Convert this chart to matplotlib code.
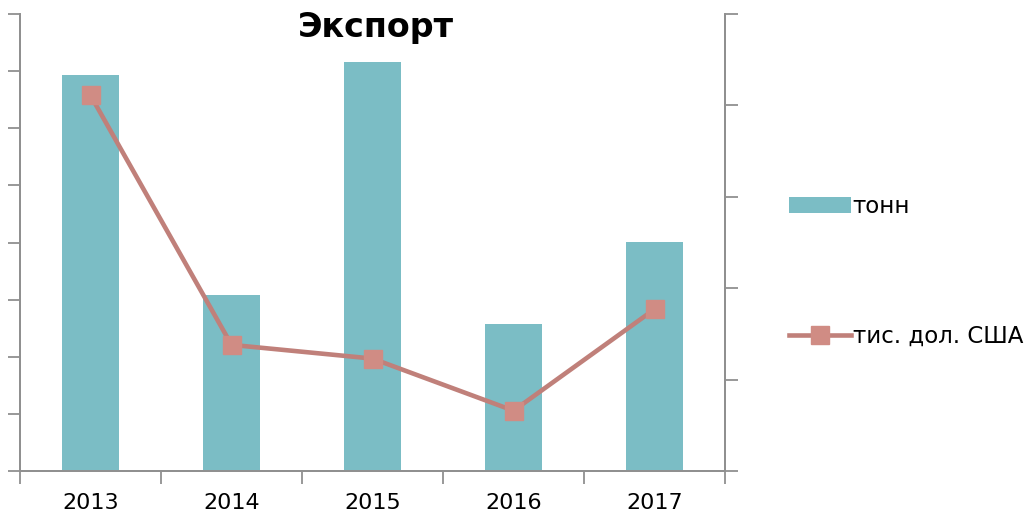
import matplotlib.pyplot as plt
import numpy as np

# данные
years = ['2013', '2014', '2015', '2016', '2017']
tonn = [6.93, 3.08, 7.16, 2.57, 4.01]        # левая ось (тонн)
usd = [4.11, 1.38, 1.23, 0.66, 1.77]         # правая ось (тис. дол. США)

plt.rcParams['font.family'] = ['DejaVu Sans']

fig = plt.figure(figsize=(10.32, 5.19), dpi=100)
ax = fig.add_axes([20 / 1032, 48 / 519, 705 / 1032, 457 / 519])
ax2 = ax.twinx()

x = np.arange(len(years))
bars = ax.bar(x, tonn, width=0.4, color='#7bbdc5', label='тонн', zorder=2)
line, = ax2.plot(x, usd, color='#c0807a', lw=3.3, marker='s', markersize=12.5,
                 markerfacecolor='#d08c84', markeredgecolor='#d08c84',
                 label='тис. дол. США', zorder=3)

ax.set_xlim(-0.5, len(years) - 0.5)
ax.set_ylim(0, 8)
ax2.set_ylim(0, 5)
ax.set_yticks(np.arange(0, 9, 1))
ax2.set_yticks(np.arange(0, 6, 1))
ax.set_yticklabels([])
ax2.set_yticklabels([])

# деления по границам категорий
ax.set_xticks(np.arange(-0.5, len(years), 1))
ax.set_xticklabels([])
ax.set_xticks(x, minor=True)
ax.set_xticklabels(years, minor=True, fontsize=16)
ax.tick_params(axis='x', which='minor', length=0, pad=16)

gray = '#909090'
for a in (ax, ax2):
    for s in a.spines.values():
        s.set_color(gray)
        s.set_linewidth(1.3)
    a.spines['top'].set_visible(False)
    a.tick_params(axis='both', which='major', color=gray, width=1.3, length=9)

fig.text(376 / 1032, 1 - 28 / 519, 'Экспорт', fontsize=24, fontweight='bold',
         ha='center', va='center')

fig.legend([bars, line], ['тонн', 'тис. дол. США'], loc='upper left',
           bbox_to_anchor=(768 / 1032, 1 - 174 / 519), frameon=False,
           fontsize=16.5, labelspacing=4.67, handlelength=2.7, handletextpad=0.1)

plt.savefig('out.png')
